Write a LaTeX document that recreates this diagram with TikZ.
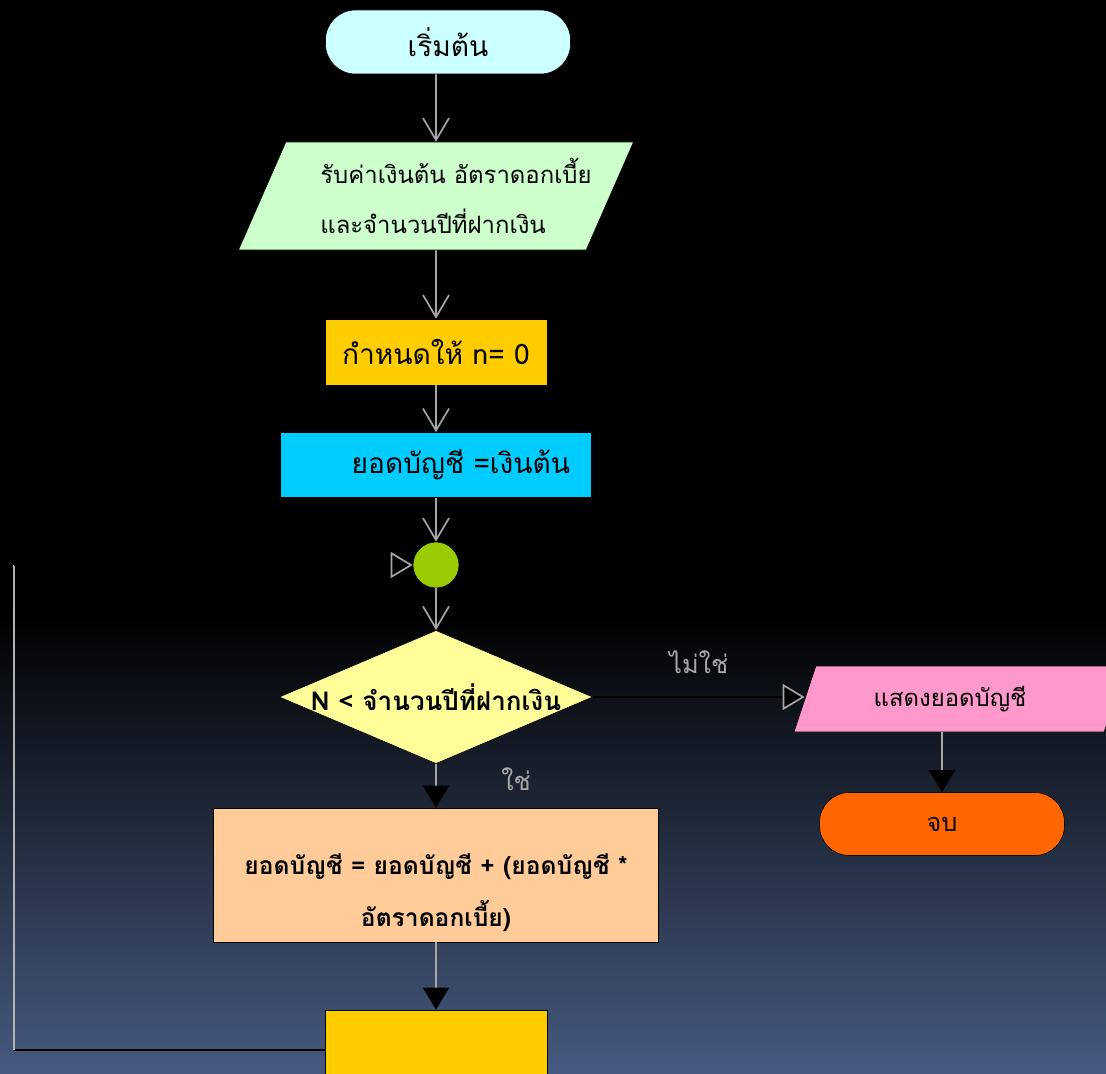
\documentclass[tikz,border=0pt]{standalone}
\usepackage{fontspec}
\setmainfont[Script=Thai]{Loma}
\usetikzlibrary{shapes.geometric, arrows.meta}
\definecolor{startcol}{HTML}{CCFFFF}
\definecolor{inputcol}{HTML}{CCFFCC}
\definecolor{setcol}{HTML}{FFCC00}
\definecolor{initcol}{HTML}{00CCFF}
\definecolor{joincol}{HTML}{99CC00}
\definecolor{condcol}{HTML}{FFFF99}
\definecolor{showcol}{HTML}{FF99CC}
\definecolor{stopcol}{HTML}{FF6600}
\definecolor{calccol}{HTML}{FFCC99}
\definecolor{bgblue}{HTML}{465A80}
\definecolor{labelgray}{HTML}{A8A8A8}
\pgfdeclareverticalshading{slidebg}{100bp}{color(0bp)=(bgblue); color(25bp)=(bgblue); color(46.5bp)=(black); color(100bp)=(black)}
\begin{document}
\begin{tikzpicture}[node distance=2cm, thick,
    box/.style={draw=black, thin, rectangle, minimum height=1.65cm, font=\fontsize{20}{26}\selectfont},
    term/.style={draw=black, thin, rectangle, rounded corners=0.75cm, minimum width=6.125cm, minimum height=1.6cm, font=\fontsize{20}{26}\selectfont},
    io/.style={draw=black, thin, trapezium, trapezium stretches body, font=\fontsize{17}{36}\selectfont},
    flow/.style={draw=gray!70, line width=1.2pt, -{Straight Barb[length=0.55cm, width=0.65cm]}},
    dflow/.style={draw=gray!70, line width=1pt, -{Triangle[length=0.55cm, width=0.65cm, fill=black, color=black]}},
    hflow/.style={draw=black, line width=1.2pt, -{Triangle[length=0.55cm, width=0.65cm, fill=black, color=gray!70]}},
    answer/.style={text=labelgray, font=\fontsize{18}{22}\selectfont}]
    % Background
    \path[use as bounding box, clip] (0,0) rectangle (27.65,-26.85);
    \shade[shading=slidebg] (0,0) rectangle (27.65,-26.85);

    % Nodes
    \node (start) [term, fill=startcol] at (11.2,-1.05) {เริ่มต้น};
    \node (input) [io, fill=inputcol, align=left, inner xsep=2pt, trapezium left angle=61, trapezium right angle=119, minimum width=9.875cm, minimum height=2.7cm, below of=start, node distance=3.85cm, xshift=-0.3cm] {\kern0.5cm รับค่าเงินต้น อัตราดอกเบี้ย\kern-0.5cm\\\kern0.5cm และจำนวนปีที่ฝากเงิน\kern-0.5cm};
    \node (setn) [box, fill=setcol, minimum width=5.55cm, below of=input, node distance=3.9cm] {กำหนดให้ n= 0};
    \node (init) [box, fill=initcol, minimum width=7.775cm, minimum height=1.625cm, text width=6.7cm, align=right, below of=setn, node distance=2.825cm] {ยอดบัญชี =เงินต้น};
    \node (join) [circle, draw=black, thin, fill=joincol, minimum size=1.15cm, inner sep=0pt, below of=init, node distance=2.5cm] {};
    \node (cond) [diamond, draw=black, thin, fill=condcol, shape aspect=2.35, inner sep=0pt, minimum width=7.625cm, minimum height=3.25cm, font=\bfseries\fontsize{18.5}{22}\selectfont, below of=join, node distance=3.3cm] {N < จำนวนปีที่ฝากเงิน};
    \node (calc) [box, fill=calccol, minimum width=11.125cm, minimum height=3.35cm, align=center, font=\bfseries\fontsize{17.5}{37}\selectfont, below of=cond, node distance=4.45cm] {\rule{0pt}{1.4cm}ยอดบัญชี = ยอดบัญชี + (ยอดบัญชี *\\อัตราดอกเบี้ย)};
    \node (incr) [box, fill=setcol, minimum width=5.55cm, minimum height=2cm, below of=calc, node distance=4.375cm] {};
    \node (show) [io, fill=showcol, trapezium left angle=58, trapezium right angle=122, minimum width=8.3cm, minimum height=1.65cm, right of=cond, node distance=13.1cm, yshift=-0.05cm] {แสดงยอดบัญชี\kern0.5cm};
    \node (stop) [term, fill=stopcol, minimum height=1.575cm, font=\fontsize{18}{22}\selectfont, below of=show, node distance=3.125cm, xshift=-0.45cm] {จบ};

    % Edges
    \draw[flow] (start.south -| input.north) -- (input);
    \draw[flow] (input) -- (setn);
    \draw[flow] (setn) -- (init);
    \draw[flow] (init) -- (join);
    \draw[flow] (join) -- (cond);
    \draw[hflow] (cond) -- (cond -| show.west) node[answer, midway, above=0.45cm] {ไม่ใช่};
    \draw[dflow] (cond) -- (calc) node[answer, pos=0.35, right=1.5cm] {ใช่};
    \draw[dflow] (show.south -| stop.north) -- (stop);
    \draw[dflow] (calc) -- (incr);

    % Loop back
    \path (incr.west) ++(-7.775,0) coordinate (lb);
    \coordinate (lt) at (lb |- join);
    \draw[black, line width=1.5pt] (incr.west) -- (lb);
    \draw[gray!60, line width=1.5pt] (lb) -- (lt);
    \draw[hflow] (lt) -- (join);
\end{tikzpicture}
\end{document}
